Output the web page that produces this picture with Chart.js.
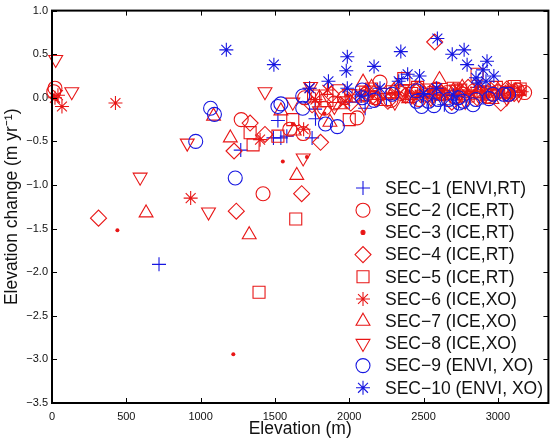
<!DOCTYPE html>
<html>
<head>
<meta charset="utf-8">
<script src="https://cdn.jsdelivr.net/npm/chart.js@4/dist/chart.umd.min.js"></script>
<style>
html,body{margin:0;padding:0;background:#fff;}
#wrap{width:558px;height:440px;}
</style>
</head>
<body>
<div id="wrap"><canvas id="c" width="558" height="440"></canvas></div>
<script>
// ---- data (elevation m, elevation change m/yr) ----
const xTicks = [0, 500, 1000, 1500, 2000, 2500, 3000];
const yTicks = [-3.5, -3.0, -2.5, -2.0, -1.5, -1.0, -0.5, 0.0, 0.5, 1.0];
const seriesNames = ["SEC\u22121 (ENVI,RT)", "SEC\u22122 (ICE,RT)", "SEC\u22123 (ICE,RT)", "SEC\u22124 (ICE,RT)",
  "SEC\u22125 (ICE,RT)", "SEC\u22126 (ICE,XO)", "SEC\u22127 (ICE,XO)", "SEC\u22128 (ICE,XO)",
  "SEC\u22129 (ENVI, XO)", "SEC\u221210 (ENVI, XO)"];

const sec1 = [[720,-1.91],[1270,-0.60],[1490,-0.46],[1540,-0.46],[1520,-0.26],[1580,-0.44],[1750,-0.46],[1773,-0.24],[1770,-0.13],[2107,-0.12],[2353,0.22],[2000,-0.05],[2250,-0.02],[2560,0.0],[2720,-0.06],[2900,0.0],[2640,-0.08]];
const sec2 = [[20,0.11],[12,0.07],[1273,-0.25],[1420,-1.10],[1600,-0.36],[1690,-0.41],[1700,0.00],[1833,-0.12],[1967,0.00],[2053,-0.23],[2173,0.00],[2207,0.18],[2280,-0.03],[2433,0.08],[2520,0.03],[2587,0.10],[2660,0.06],[2767,0.04],[2840,0.08],[2930,0.02],[3000,0.07],[3073,0.04],[3130,0.09],[2350,0.05],[1900,-0.06],[2110,0.04],[2470,-0.02],[2710,0.01],[2890,0.05],[3180,0.06]];
const sec3 = [[0,0.00],[8,0.03],[30,-0.02],[440,-1.52],[1220,-2.94],[1553,-0.73],[1715,-0.68],[1833,-0.18],[1620,-0.30],[1990,0.03],[2150,0.02],[2330,0.06],[2480,0.02],[2620,0.08],[2780,0.05],[2890,0.09],[3010,0.04],[3100,0.07],[3173,0.04]];
const sec4 = [[313,-1.38],[1240,-1.30],[1225,-0.61],[1433,-0.42],[1333,-0.29],[1680,-1.10],[1807,-0.51],[2575,0.64],[1750,-0.08],[1880,0.04],[2010,-0.06],[2120,0.07],[2260,-0.04],[2380,0.03],[2470,0.10],[2560,0.02],[2690,-0.05],[2750,0.07],[2860,0.00],[2950,0.09],[3020,-0.06],[3110,0.05],[2180,-0.01],[2320,0.11],[2620,0.05],[2800,0.12],[3060,0.10]];
const sec5 = [[1640,-1.39],[1393,-2.23],[1333,-0.40],[1353,-0.54],[1520,-0.44],[1620,-0.25],[2000,-0.25],[2367,0.22],[2860,0.27],[1760,0.02],[1850,-0.03],[1930,0.08],[2060,0.02],[2150,0.10],[2240,-0.02],[2420,0.05],[2520,0.09],[2610,0.04],[2700,0.11],[2800,0.02],[2900,0.07],[2990,0.12],[3070,0.06],[3150,0.10],[2290,0.07],[2460,0.12],[2570,0.06],[2750,0.09],[2950,0.04],[3110,0.13]];
const sec6 = [[20,0.00],[40,0.03],[67,-0.10],[427,-0.06],[933,-1.15],[1400,-0.48],[1693,-0.36],[1773,-0.02],[1733,0.11],[1853,0.09],[1973,-0.04],[2070,0.04],[2190,-0.02],[2310,0.06],[2450,0.00],[2540,0.07],[2640,0.03],[2730,0.09],[2820,0.05],[2920,0.02],[3000,0.08],[3090,0.11],[3160,0.07],[2130,0.08],[2380,0.02],[2590,0.10],[2860,0.12],[3040,0.03]];
const sec7 = [[633,-1.32],[1327,-1.57],[1200,-0.46],[1087,-0.21],[1647,-0.89],[1540,-0.15],[1630,-0.38],[1870,-0.28],[1800,0.00],[1940,-0.08],[2093,0.18],[2200,0.03],[2300,0.08],[2400,-0.01],[2500,0.06],[2607,0.21],[2700,0.08],[2800,0.03],[2880,0.10],[2960,-0.02],[3050,0.05],[3120,0.08],[2150,0.12],[2450,0.10],[2650,0.02],[2760,0.12],[3000,0.09]];
const sec8 = [[25,0.44],[133,0.07],[593,-0.91],[910,-0.52],[1053,-1.31],[1433,0.07],[1690,-0.69],[1620,-0.05],[1740,0.13],[1800,-0.15],[1900,-0.10],[2000,0.05],[2100,-0.08],[2160,0.09],[2307,-0.05],[2420,0.02],[2550,-0.01],[2680,0.04],[2780,-0.04],[2870,0.03],[2980,0.05],[3060,0.00],[3140,0.04],[2230,0.06],[2360,0.10],[2490,0.04],[2600,0.07],[2720,0.10],[2930,0.08],[3100,0.09]];
const sec9 = [[967,-0.50],[1067,-0.12],[1093,-0.19],[1233,-0.92],[1520,-0.10],[1540,-0.07],[1687,0.02],[1687,-0.12],[1840,-0.30],[1920,-0.33],[2087,0.09],[2087,0.00],[2167,-0.03],[2287,0.04],[2453,0.08],[2453,-0.04],[2487,-0.10],[2533,-0.04],[2600,-0.02],[2667,-0.02],[2733,0.00],[2740,-0.06],[2767,-0.04],[2833,-0.08],[2853,-0.02],[2940,-0.01],[2967,0.04],[3040,0.04],[3073,0.04],[2570,-0.09],[2690,-0.10]];
const sec10 = [[1173,0.55],[1493,0.38],[1733,0.11],[1860,0.19],[1987,0.47],[1980,0.31],[1987,0.11],[2167,0.36],[2207,0.11],[2333,0.19],[2347,0.53],[2393,0.27],[2473,0.25],[2500,0.05],[2587,0.11],[2593,0.68],[2693,0.50],[2773,0.55],[2793,0.38],[2853,0.23],[2867,0.17],[2900,0.32],[2920,0.19],[2927,0.42],[2973,0.25],[2080,0.02],[2700,0.03]];

const RED = 'rgb(232,22,22)';
const BLUE = 'rgb(22,22,225)';
const styles = [
  {d: sec1, c: BLUE, s: 'cross', r: 7, rot: 0, fill: false},
  {d: sec2, c: RED, s: 'circle', r: 7, rot: 0, fill: false},
  {d: sec3, c: RED, s: 'circle', r: 2, rot: 0, fill: true},
  {d: sec4, c: RED, s: 'rectRot', r: 8, rot: 0, fill: false},
  {d: sec5, c: RED, s: 'rect', r: 8.5, rot: 0, fill: false},
  {d: sec6, c: RED, s: 'star', r: 7, rot: 0, fill: false},
  {d: sec7, c: RED, s: 'triangle', r: 8, rot: 0, fill: false},
  {d: sec8, c: RED, s: 'triangle', r: 8, rot: 180, fill: false},
  {d: sec9, c: BLUE, s: 'circle', r: 7, rot: 0, fill: false},
  {d: sec10, c: BLUE, s: 'star', r: 7, rot: 0, fill: false}
];

const datasets = styles.map((st, i) => ({
  label: seriesNames[i],
  data: st.d.map(p => ({x: p[0], y: p[1]})),
  pointStyle: st.s,
  pointRadius: st.r,
  pointRotation: st.rot,
  pointBorderColor: st.c,
  pointBackgroundColor: st.fill ? st.c : 'rgba(0,0,0,0)',
  pointBorderWidth: st.fill ? 0 : 1.1,
  borderColor: st.c,
  backgroundColor: st.fill ? st.c : 'rgba(0,0,0,0)',
  showLine: false,
  clip: false,
  order: 10 - i
}));

const FONT = '"Liberation Sans", Arial, Helvetica, sans-serif';
const fmt = v => (v < 0 ? '\u2212' : '') + Math.abs(v).toFixed(1);

const framePlugin = {
  id: 'frame',
  afterDraw(chart) {
    const {ctx, chartArea: a, scales} = chart;
    ctx.save();
    ctx.strokeStyle = '#000';
    ctx.lineWidth = 1;
    ctx.beginPath();
    xTicks.forEach(v => {
      const px = Math.round(scales.x.getPixelForValue(v)) + 0.5;
      ctx.moveTo(px, a.bottom); ctx.lineTo(px, a.bottom - 5);
      ctx.moveTo(px, a.top); ctx.lineTo(px, a.top + 5);
    });
    yTicks.forEach(v => {
      const py = Math.round(scales.y.getPixelForValue(v)) + 0.5;
      ctx.moveTo(a.left, py); ctx.lineTo(a.left + 5, py);
      ctx.moveTo(a.right, py); ctx.lineTo(a.right - 5, py);
    });
    ctx.stroke();
    ctx.lineWidth = 2;
    ctx.strokeRect(a.left, a.top, a.right - a.left, a.bottom - a.top);

    // legend inside plot area
    const mx = 363, tx = 385, y0 = 188, dy = 22.2;
    ctx.font = '17.5px ' + FONT;
    ctx.textBaseline = 'middle';
    ctx.textAlign = 'left';
    styles.forEach((st, i) => {
      const y = y0 + i * dy;
      ctx.strokeStyle = st.c;
      ctx.fillStyle = st.fill ? st.c : 'rgba(0,0,0,0)';
      ctx.lineWidth = st.fill ? 0 : 1.1;
      Chart.helpers.drawPoint(ctx, {pointStyle: st.s, radius: st.r, rotation: st.rot, borderWidth: ctx.lineWidth}, mx, y);
      ctx.fillStyle = '#111';
      ctx.fillText(seriesNames[i], tx, y + 1);
    });
    ctx.restore();
  }
};

new Chart(document.getElementById('c'), {
  type: 'scatter',
  data: {datasets},
  options: {
    responsive: false,
    animation: false,
    devicePixelRatio: 1,
    layout: {padding: {top: 9, right: 5, left: 0, bottom: 0}},
    plugins: {legend: {display: false}, tooltip: {enabled: false}},
    scales: {
      x: {
        type: 'linear', min: 0, max: 3340,
        afterBuildTicks: s => { s.ticks = xTicks.map(v => ({value: v})); },
        afterFit: s => { s.height = 37; },
        grid: {display: false, drawTicks: false},
        border: {display: false},
        ticks: {color: '#111', font: {family: FONT, size: 11}, padding: 7, maxRotation: 0, autoSkip: false,
                callback: v => String(v)},
        title: {display: true, text: 'Elevation (m)', color: '#111', font: {family: FONT, size: 17.5, lineHeight: 1},
                padding: {top: 0, bottom: 2}}
      },
      y: {
        type: 'linear', min: -3.5, max: 1.0,
        afterBuildTicks: s => { s.ticks = yTicks.map(v => ({value: v})); },
        afterFit: s => { s.width = 52; },
        grid: {display: false, drawTicks: false},
        border: {display: false},
        ticks: {color: '#111', font: {family: FONT, size: 11}, padding: 4, autoSkip: false,
                callback: v => fmt(v)},
        title: {display: true, text: 'Elevation change (m yr\u207B\u00B9)', color: '#111',
                font: {family: FONT, size: 17.5, lineHeight: 1}, padding: {top: 3, bottom: 0}}
      }
    }
  },
  plugins: [framePlugin]
});
</script>
</body>
</html>
